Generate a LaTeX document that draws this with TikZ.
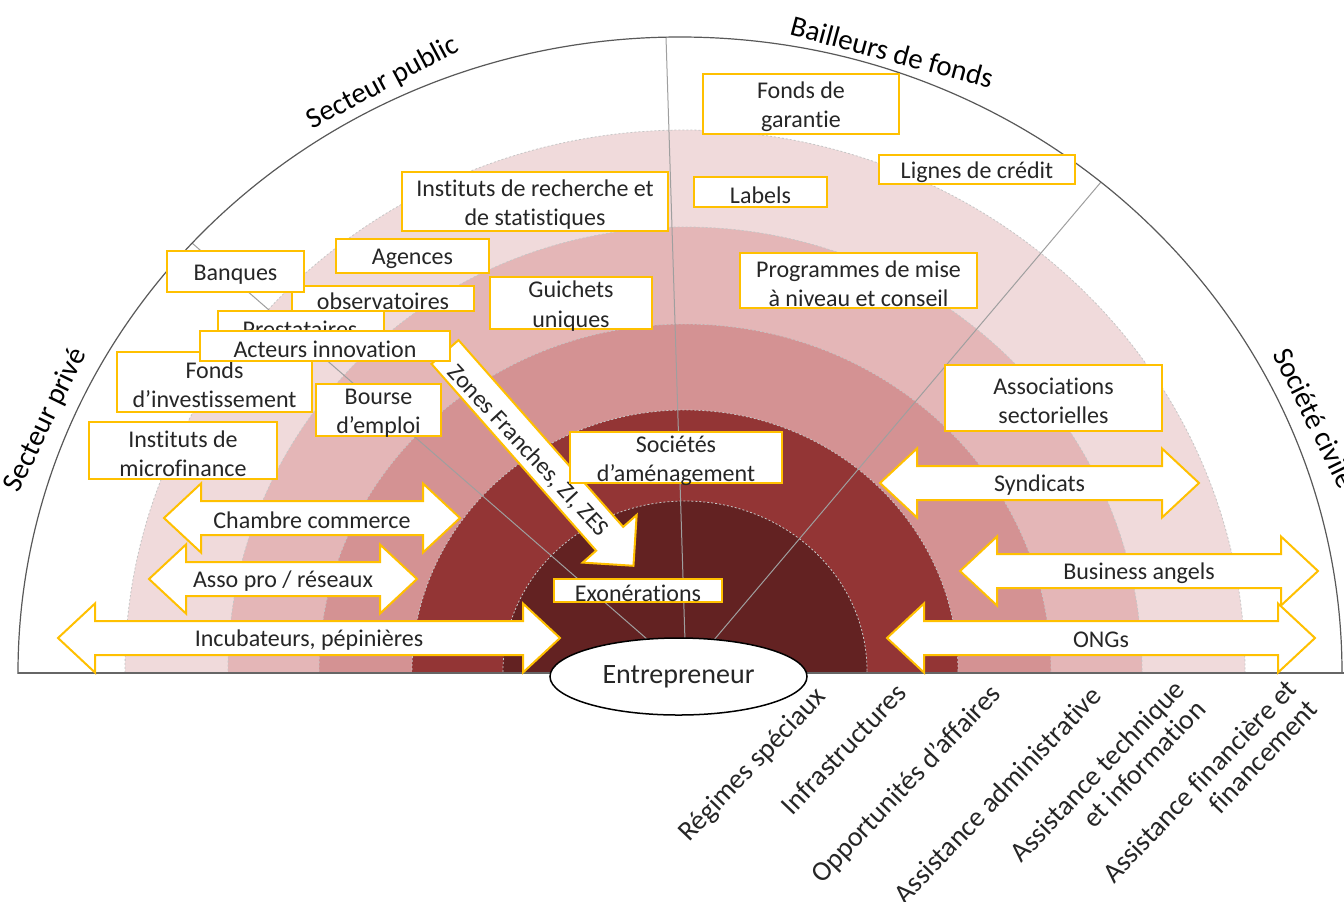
\documentclass[tikz,border=0pt]{standalone}
\usepackage{fontspec}
\setmainfont{Carlito}[Ligatures=NoCommon]
\usetikzlibrary{shapes.geometric}
\definecolor{ringA}{HTML}{F0DADB}
\definecolor{ringB}{HTML}{E4B6B7}
\definecolor{ringC}{HTML}{D49293}
\definecolor{ringD}{HTML}{933535}
\definecolor{ringE}{HTML}{632222}
\definecolor{boxc}{HTML}{FFC000}
\definecolor{txtc}{HTML}{262626}
\definecolor{arcc}{HTML}{595959}
\newcommand\boxat[6]{%
  \pgfmathsetmacro\bxX{(#2+#4)/2}%
  \pgfmathsetmacro\bxY{(#3+#5)/2}%
  \pgfmathsetmacro\bxT{(#3+#5)/2+3}%
  \pgfmathsetmacro\bxW{(#4-#2)/2}%
  \pgfmathsetmacro\bxH{(#5-#3)/2}%
  \node[bx, minimum width=\bxW pt, minimum height=\bxH pt] (#1) at (\bxX,\bxY) {};
  \node[txt, align=center] (#1t) at (\bxX,\bxT) {#6};}
\newcommand\dblarrow[5]{%
  \pgfmathsetmacro\daA{#2+37}\pgfmathsetmacro\daB{#3-37}%
  \pgfmathsetmacro\daT{#4-17}\pgfmathsetmacro\daU{#4+17}%
  \pgfmathsetmacro\daHt{#4-34.5}\pgfmathsetmacro\daHb{#4+34.5}%
  \draw[arr] (#2,#4) -- (\daA,\daHt) -- (\daA,\daT) -- (\daB,\daT) -- (\daB,\daHt) -- (#3,#4)
     -- (\daB,\daHb) -- (\daB,\daU) -- (\daA,\daU) -- (\daA,\daHb) -- cycle;
  \pgfmathsetmacro\daC{(#2+#3)/2}\pgfmathsetmacro\daY{#4+2}%
  \node[txt] (#1) at (\daC,\daY) {#5};}
\begin{document}
\begin{tikzpicture}[x=0.5pt,y=-0.5pt,
  bx/.style={draw=boxc, line width=1pt, fill=white, inner sep=0pt},
  txt/.style={inner sep=0pt, text=txtc, font=\fontsize{12}{14.6}\selectfont},
  arr/.style={draw=boxc, line width=1pt, fill=white, line join=miter},
  outl/.style={inner sep=0pt, text=black, font=\fontsize{14.5}{17}\selectfont},
  lbl/.style={inner sep=0pt, text=txtc, align=right, font=\fontsize{14}{14.5}\selectfont, rotate=46.5, anchor=north east},
  radial/.style={draw=gray!75, line width=0.5pt},
  ringedge/.style={draw=gray!45, line width=0.4pt, dash pattern=on 1pt off 1pt}]
\useasboundingbox (0,0) rectangle (1344,901);
\fill[white] (0,0) rectangle (1344,901);
% rings
\begin{scope}
  \clip (0,0) rectangle (1344,671);
  \fill[ringA] (685,671) ellipse [x radius=560, y radius=541];
  \fill[ringB] (685,671) ellipse [x radius=457, y radius=444];
  \fill[ringC] (685,671) ellipse [x radius=366, y radius=347];
  \fill[ringD] (685,671) ellipse [x radius=273, y radius=261];
  \fill[ringE] (685,671) ellipse [x radius=182, y radius=170];
  \draw[ringedge] (685,671) ellipse [x radius=560, y radius=541];
  \draw[ringedge] (685,671) ellipse [x radius=457, y radius=444];
  \draw[ringedge] (685,671) ellipse [x radius=366, y radius=347];
  \draw[ringedge] (685,671) ellipse [x radius=273, y radius=261];
  \draw[ringedge] (685,671) ellipse [x radius=182, y radius=170];
\end{scope}
% radial lines
\coordinate (O) at (686,673);
\coordinate (r1) at (666,37);
\coordinate (r2) at (192,243);
\coordinate (r3) at (1101,182);
\draw[radial] (O) -- (r1);
\draw[radial] (O) -- (r2);
\draw[radial] (O) -- (r3);
% outer arc and baseline
\begin{scope}
  \clip (0,0) rectangle (1344,673);
  \draw[arcc, line width=0.6pt] (680,673) ellipse [x radius=662, y radius=636];
\end{scope}
\coordinate (bl) at (18,673);
\coordinate (br) at (1344,673);
\draw[gray!80!black, line width=0.8pt] (bl) -- (br);
% sector labels
\node[outl, rotate=64] (sprive) at (46,420) {Secteur privé};
\node[outl, rotate=28] (spublic) at (383,83) {Secteur public};
\node[outl, rotate=-15] (bailleurs) at (892,52) {Bailleurs de fonds};
\node[outl, rotate=-64] (civile) at (1315,418) {Société civile};
% entrepreneur
\node[draw=black, line width=0.75pt, ellipse, fill=white, inner sep=0pt, minimum width=128.5pt, minimum height=38.5pt, text=txtc, font=\fontsize{14}{17}\selectfont] (ent) at (678.5,676.5) {Entrepreneur};
% double arrows
\dblarrow{chambre}{164}{460}{518}{Chambre commerce}
\dblarrow{asso}{149}{417}{579}{Asso pro / réseaux}
\dblarrow{incub}{58}{560}{638}{Incubateurs, pépinières}
\dblarrow{synd}{880}{1199}{483}{Syndicats}
\dblarrow{angels}{960}{1318}{571}{Business angels}
\dblarrow{ongs}{887}{1315}{638}{ONGs}
% zones franches arrow
\begin{scope}[shift={(445,352)}, rotate=-48.6]
  \draw[arr] (0,-18) -- (249,-18) -- (249,-36) -- (285,0) -- (249,36) -- (249,18) -- (0,18) -- cycle;
\end{scope}
\node[txt, rotate=-47] (zones) at (528,451) {Zones Franches, ZI, ZES};
% boxes
\boxat{instrech}{402}{172}{668}{231}{Instituts de recherche et\\de statistiques}
\boxat{agences}{336}{239}{489}{273}{Agences}
\boxat{observ}{292}{286}{474}{311}{observatoires}
\boxat{banques}{167}{251}{304}{292}{Banques}
\boxat{guichets}{490}{277}{652}{329}{Guichets\\uniques}
\node[bx, minimum width=83pt, minimum height=24pt, anchor=north west] (prest) at (217,310) {};
\node[txt, anchor=base] (prestt) at (300,337) {Prestataires};
\boxat{fondsinv}{117}{352}{312}{412}{Fonds\\d’investissement}
\boxat{acteurs}{200}{331}{450}{361}{Acteurs innovation}
\boxat{bourse}{316}{384}{441}{436}{Bourse\\d’emploi}
\boxat{microf}{89}{422}{277}{479}{Instituts de\\microfinance}
\boxat{societes}{570}{432}{782}{483}{Sociétés\\d’aménagement}
\boxat{exon}{554}{579}{722}{602}{Exonérations}
\boxat{fondsgar}{703}{74}{899}{134}{Fonds de\\garantie}
\boxat{lignes}{879}{155}{1075}{184}{Lignes de crédit}
\boxat{labels}{694}{177}{827}{207}{Labels}
\boxat{progr}{740}{253}{977}{308}{Programmes de mise\\à niveau et conseil}
\boxat{assoc}{945}{365}{1162}{431}{Associations\\sectorielles}
% bottom labels
\node[lbl] (l1) at (813,684) {Régimes spéciaux};
\node[lbl] (l2) at (894,681) {Infrastructures};
\node[lbl] (l3) at (988,681) {Opportunités d’affaires};
\node[lbl] (l4) at (1089,683) {Assistance administrative};
\node[lbl] (l5) at (1172,677) {Assistance technique\\et information};
\node[lbl] (l6) at (1284,677) {Assistance financière et\\financement};
\end{tikzpicture}
\end{document}
